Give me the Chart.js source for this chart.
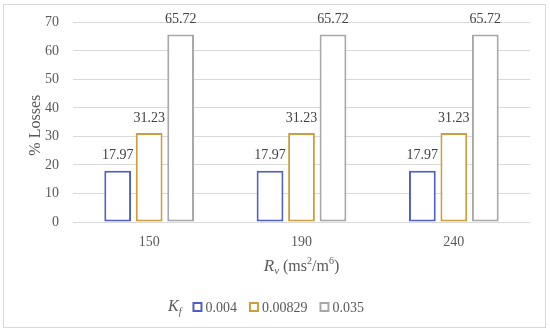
<!DOCTYPE html>
<html>
<head>
<meta charset="utf-8">
<script src="https://cdn.jsdelivr.net/npm/chart.js@4"></script>
<style>
  body { margin: 0; background: #fff; }
  #wrap { width: 550px; height: 336px; }
</style>
</head>
<body>
<div id="wrap"><canvas id="chart" width="550" height="336"></canvas></div>
<script>
const categories = ["150", "190", "240"];
const kfLabels = ["0.004", "0.00829", "0.035"];
const losses_004 = [17.97, 17.97, 17.97];
const losses_00829 = [31.23, 31.23, 31.23];
const losses_035 = [65.72, 65.72, 65.72];
const colors = ["#4f5fc6", "#cc9e3e", "#a8a8a8"];

const SERIF = "'Liberation Serif', 'DejaVu Serif', serif";
const textColor = "#595959";

const makeDataset = (label, data, color) => ({
  label: label,
  data: data,
  backgroundColor: "#ffffff",
  borderColor: color,
  borderWidth: 2,
  borderSkipped: false,
  categoryPercentage: 0.62,
  barPercentage: 0.85,
});

// value labels above bars, titles, legend and frame
const extrasPlugin = {
  id: "extras",
  beforeDraw(chart) {
    const ctx = chart.ctx;
    ctx.save();
    ctx.strokeStyle = "#d9d9d9";
    ctx.lineWidth = 1;
    ctx.strokeRect(3.5, 4.5, 542, 323);
    ctx.restore();
  },
  afterDatasetsDraw(chart) {
    const ctx = chart.ctx;
    const area = chart.chartArea;
    ctx.save();
    ctx.fillStyle = "#404040";
    ctx.font = "14px " + SERIF;
    ctx.textAlign = "center";
    ctx.textBaseline = "bottom";
    chart.data.datasets.forEach((ds, i) => {
      chart.getDatasetMeta(i).data.forEach((bar, j) => {
        ctx.fillText(ds.data[j].toFixed(2), bar.x, bar.y - 8);
      });
    });

    // y axis title
    ctx.fillStyle = textColor;
    ctx.save();
    ctx.translate(36, (area.top + area.bottom) / 2 + 3);
    ctx.rotate(-Math.PI / 2);
    ctx.textBaseline = "middle";
    ctx.font = "16px " + SERIF;
    ctx.fillText("% Losses", 0, 0);
    ctx.restore();

    // x axis title: R_v (ms²/m⁶)
    const cx = (area.left + area.right) / 2;
    const ty = area.bottom + 49;
    ctx.textBaseline = "alphabetic";
    ctx.textAlign = "left";
    const parts = [
      { t: "R", f: "italic 17px " + SERIF, dy: 0 },
      { t: "v", f: "italic 11px " + SERIF, dy: 3 },
      { t: " (ms", f: "16px " + SERIF, dy: 0 },
      { t: "2", f: "10px " + SERIF, dy: -7 },
      { t: "/m", f: "16px " + SERIF, dy: 0 },
      { t: "6", f: "10px " + SERIF, dy: -7 },
      { t: ")", f: "16px " + SERIF, dy: 0 },
    ];
    let total = 0;
    parts.forEach((p) => {
      ctx.font = p.f;
      p.w = ctx.measureText(p.t).width;
      total += p.w;
    });
    let x = cx - total / 2;
    parts.forEach((p) => {
      ctx.font = p.f;
      ctx.fillText(p.t, x, ty + p.dy);
      x += p.w;
    });

    // legend with K_f title
    const ly = area.bottom + 85;
    let lx = 168;
    ctx.textBaseline = "middle";
    ctx.font = "italic 16px " + SERIF;
    ctx.fillText("K", lx, ly);
    lx += ctx.measureText("K").width;
    ctx.font = "italic 10px " + SERIF;
    ctx.fillText("f", lx, ly + 5);
    lx += ctx.measureText("f").width + 11;
    chart.data.datasets.forEach((ds) => {
      ctx.strokeStyle = ds.borderColor;
      ctx.lineWidth = 2;
      ctx.strokeRect(lx + 1, ly - 4, 8, 8);
      lx += 13;
      ctx.font = "14px " + SERIF;
      ctx.fillStyle = textColor;
      ctx.fillText(ds.label, lx, ly + 1);
      lx += ctx.measureText(ds.label).width + 12;
    });
    ctx.restore();
  },
};

new Chart(document.getElementById("chart"), {
  type: "bar",
  data: {
    labels: categories,
    datasets: [
      makeDataset(kfLabels[0], losses_004, colors[0]),
      makeDataset(kfLabels[1], losses_00829, colors[1]),
      makeDataset(kfLabels[2], losses_035, colors[2]),
    ],
  },
  options: {
    responsive: false,
    animation: false,
    layout: { padding: { top: 21, right: 20, left: 0, bottom: 0 } },
    plugins: {
      legend: { display: false },
      tooltip: { enabled: false },
    },
    scales: {
      x: {
        grid: { display: false, drawTicks: false },
        border: { display: false },
        ticks: {
          color: textColor,
          font: { family: SERIF, size: 14 },
          padding: 12,
        },
        afterFit: (scale) => {
          scale.height = 114;
        },
      },
      y: {
        min: 0,
        max: 70,
        ticks: {
          stepSize: 10,
          color: textColor,
          font: { family: SERIF, size: 14 },
          padding: 14,
        },
        grid: { color: "#d9d9d9", drawTicks: false },
        border: { display: false },
        afterFit: (scale) => {
          scale.width = 73;
        },
      },
    },
  },
  plugins: [extrasPlugin],
});
</script>
</body>
</html>
